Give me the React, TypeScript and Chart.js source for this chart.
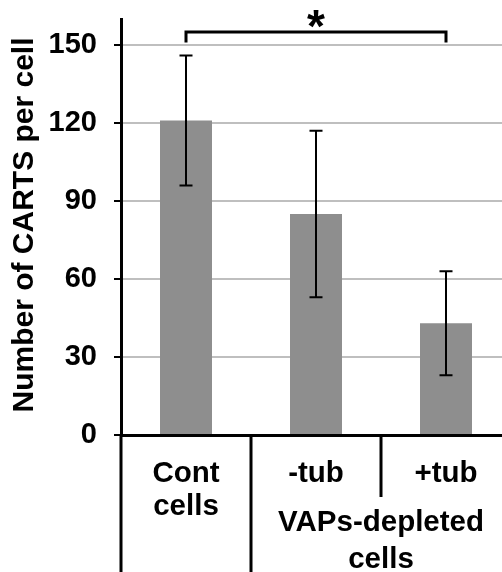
import React, { useEffect, useRef } from "react";
import { Chart, registerables } from "chart.js";

Chart.register(...registerables);

// ---- data ----
const categoryLines: string[][] = [["Cont", "cells"], ["-tub"], ["+tub"]];
const groupLines: string[] = ["VAPs-depleted", "cells"];
const groupMembers: number[] = [1, 2];
const means: number[] = [121, 85, 43];
const errors: number[] = [25, 32, 20];
const yTicks: number[] = [0, 30, 60, 90, 120, 150];
const yMax = 160;
const yTitle = "Number of CARTS per cell";
const sigPair: number[] = [0, 2];
const sigLevels: number[] = [155, 151];
const sigLabel = "*";

const FONT = "'Liberation Sans', Arial, Helvetica, sans-serif";
const W = 520;
const H = 572;

const overlay = {
  id: "overlay",
  afterDraw(chart: any) {
    const ctx = chart.ctx as CanvasRenderingContext2D;
    const { left, bottom } = chart.chartArea;
    const xs = chart.scales.x;
    const ys = chart.scales.y;
    ctx.save();
    ctx.strokeStyle = "#000";
    ctx.fillStyle = "#000";
    ctx.lineCap = "butt";

    // error bars
    ctx.lineWidth = 2;
    means.forEach((m, i) => {
      const cx = xs.getPixelForValue(i);
      const yt = ys.getPixelForValue(m + errors[i]);
      const yb = ys.getPixelForValue(m - errors[i]);
      ctx.beginPath();
      ctx.moveTo(cx, yt);
      ctx.lineTo(cx, yb);
      ctx.moveTo(cx - 6.5, yt);
      ctx.lineTo(cx + 6.5, yt);
      ctx.moveTo(cx - 6.5, yb);
      ctx.lineTo(cx + 6.5, yb);
      ctx.stroke();
    });

    // significance bracket
    const x0 = xs.getPixelForValue(sigPair[0]);
    const x1 = xs.getPixelForValue(sigPair[1]);
    const yTop = ys.getPixelForValue(sigLevels[0]);
    const yEnd = ys.getPixelForValue(sigLevels[1]);
    ctx.lineWidth = 3;
    ctx.beginPath();
    ctx.moveTo(x0, yEnd);
    ctx.lineTo(x0, yTop);
    ctx.lineTo(x1, yTop);
    ctx.lineTo(x1, yEnd);
    ctx.stroke();
    ctx.font = `bold 46px ${FONT}`;
    ctx.textAlign = "center";
    ctx.textBaseline = "alphabetic";
    const m = ctx.measureText(sigLabel);
    const starCy = yTop - 13;
    const asc = m.actualBoundingBoxAscent;
    const desc = m.actualBoundingBoxDescent;
    ctx.fillText(sigLabel, (x0 + x1) / 2, starCy + (asc - desc) / 2);

    // category separators
    const b01 = (xs.getPixelForValue(0) + xs.getPixelForValue(1)) / 2;
    const b12 = (xs.getPixelForValue(1) + xs.getPixelForValue(2)) / 2;
    ctx.lineWidth = 3;
    ctx.beginPath();
    ctx.moveTo(left, bottom);
    ctx.lineTo(left, H);
    ctx.moveTo(b01, bottom);
    ctx.lineTo(b01, H);
    ctx.moveTo(b12, bottom);
    ctx.lineTo(b12, bottom + 62);
    ctx.stroke();

    // category labels
    ctx.font = `bold 29.5px ${FONT}`;
    ctx.textAlign = "center";
    ctx.textBaseline = "alphabetic";
    categoryLines.forEach((lines, i) => {
      const cx = xs.getPixelForValue(i);
      lines.forEach((t, k) => ctx.fillText(t, cx, bottom + 47 + k * 33));
    });
    const gx =
      groupMembers.reduce((s, i) => s + xs.getPixelForValue(i), 0) /
      groupMembers.length;
    groupLines.forEach((t, k) => ctx.fillText(t, gx, bottom + 96 + k * 37));

    // y title
    ctx.font = `bold 30px ${FONT}`;
    const cy = 225;
    ctx.translate(33, cy);
    ctx.rotate(-Math.PI / 2);
    ctx.textAlign = "center";
    ctx.textBaseline = "alphabetic";
    ctx.fillText(yTitle, 0, 0);
    ctx.restore();
  },
};

export default function App() {
  const ref = useRef<HTMLCanvasElement | null>(null);
  useEffect(() => {
    if (!ref.current) return;
    const chart = new Chart(ref.current, {
      type: "bar",
      data: {
        labels: categoryLines.map((l) => l.join(" ")),
        datasets: [
          {
            data: means,
            backgroundColor: "#8e8e8e",
            borderWidth: 0,
            barPercentage: 0.4,
            categoryPercentage: 1,
          },
        ],
      },
      options: {
        responsive: false,
        animation: false,
        devicePixelRatio: 1,
        layout: { padding: { top: 19, right: 9, left: 0, bottom: 0 } },
        plugins: { legend: { display: false }, tooltip: { enabled: false } },
        scales: {
          x: {
            grid: { display: false },
            border: { display: true, color: "#000", width: 3 },
            ticks: { display: false },
            afterFit: (s: any) => {
              s.height = 137;
              s.paddingLeft = 0;
              s.paddingRight = 0;
            },
          },
          y: {
            min: 0,
            max: yMax,
            afterBuildTicks: (s: any) => {
              s.ticks = yTicks.map((v) => ({ value: v }));
            },
            grid: {
              color: "#bfbfbf",
              lineWidth: 2,
              tickColor: "#000",
              tickLength: 7,
              tickWidth: 2,
            },
            border: { display: true, color: "#000", width: 3 },
            ticks: {
              font: { family: FONT, size: 29, weight: "bold" },
              color: "#000",
              padding: 17,
            },
            afterFit: (s: any) => {
              s.width = 121;
              s.paddingTop = 0;
              s.paddingBottom = 0;
            },
          },
        },
      } as any,
      plugins: [overlay],
    });
    return () => chart.destroy();
  }, []);

  return (
    <div
      style={{
        position: "absolute",
        left: 0,
        top: 0,
        width: 502,
        height: H,
        overflow: "hidden",
        background: "#fff",
      }}
    >
      <canvas ref={ref} width={W} height={H} style={{ width: W, height: H, display: "block" }} />
    </div>
  );
}
